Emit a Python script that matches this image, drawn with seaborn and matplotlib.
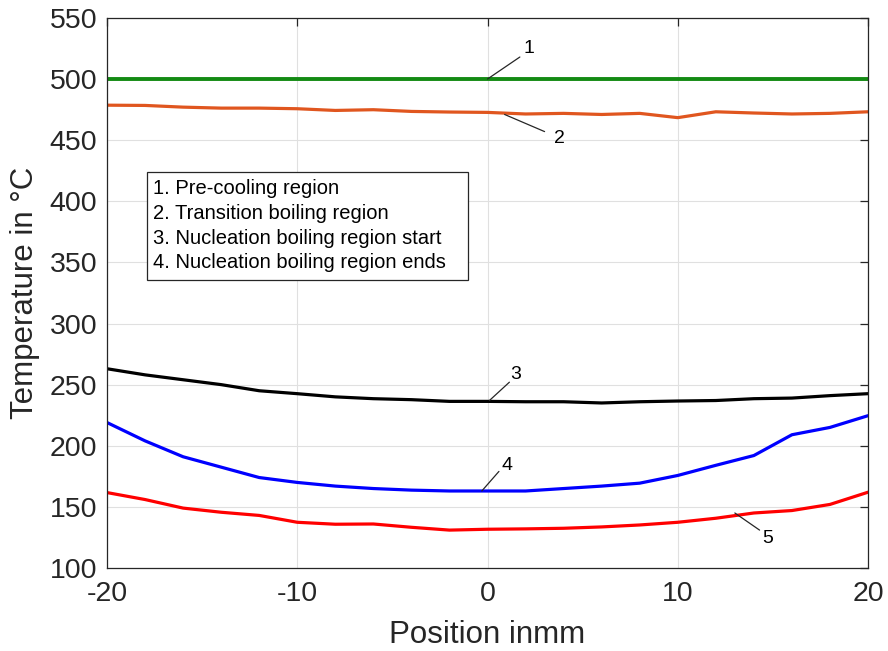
import numpy as np
import pandas as pd
import matplotlib
matplotlib.use("Agg")
import matplotlib.pyplot as plt
from matplotlib.patches import Rectangle
import seaborn as sns

# Position along the plate (mm)
position = [-20, -18, -16, -14, -12, -10, -8, -6, -4, -2, 0,
            2, 4, 6, 8, 10, 12, 14, 16, 18, 20]

# Temperature profiles (°C)
curve1 = [500] * 21
curve2 = [478.6, 478.4, 477.0, 476.2, 476.2, 475.7, 474.3, 474.9, 473.5, 473.0, 472.7,
          471.4, 471.9, 471.0, 471.9, 468.4, 473.2, 472.2, 471.4, 471.9, 473.2]
curve3 = [263.0, 258.0, 254.0, 250.0, 245.0, 242.6, 240.0, 238.5, 237.7, 236.3, 236.3,
          236.0, 236.0, 235.0, 236.0, 236.6, 237.0, 238.5, 239.0, 241.0, 242.6]
curve4 = [219.0, 204.0, 191.0, 182.5, 174.0, 170.0, 167.0, 165.0, 163.7, 163.0, 163.0,
          163.0, 165.0, 167.0, 169.4, 175.7, 184.0, 192.0, 209.0, 215.0, 224.6]
curve5 = [161.7, 156.0, 149.0, 145.6, 143.0, 137.4, 135.8, 136.0, 133.3, 131.0, 131.7,
          132.0, 132.5, 133.6, 135.2, 137.4, 140.7, 145.0, 147.0, 152.0, 162.0]

series_names = ["1", "2", "3", "4", "5"]
series_values = [curve1, curve2, curve3, curve4, curve5]
series_colors = ["#138a13", "#e0561f", "#000000", "#0000ff", "#ff0000"]

legend_lines = ["1. Pre-cooling region",
                "2. Transition boiling region",
                "3. Nucleation boiling region start",
                "4. Nucleation boiling region ends"]

# Curve labels: (label, text position, leader start, leader end)
curve_labels = [
    ("1", (2.2, 525), (0.0, 500), (1.7, 518)),
    ("2", (3.8, 451), (0.9, 471), (3.0, 457)),
    ("3", (1.5, 258), (0.1, 237), (1.15, 252)),
    ("4", (1.05, 184), (-0.3, 163), (0.6, 179)),
    ("5", (14.7, 124), (13.0, 145), (14.3, 131)),
]

df = pd.DataFrame({
    "Position": np.tile(position, len(series_names)),
    "Temperature": np.concatenate(series_values),
    "Curve": np.repeat(series_names, len(position)),
})

sns.set_style("white")
plt.rcParams["font.family"] = ["Liberation Sans", "DejaVu Sans"]
plt.rcParams["axes.unicode_minus"] = False

ink = "#262626"
fig = plt.figure(figsize=(8.88, 6.51), dpi=100)
ax = fig.add_axes([0.1205, 0.1275, 0.857, 0.845])

sns.lineplot(data=df, x="Position", y="Temperature", hue="Curve",
             palette=dict(zip(series_names, series_colors)),
             legend=False, ax=ax, linewidth=2.3)
ax.lines[0].set_linewidth(2.8)

ax.set_xlim(-20, 20)
ax.set_ylim(100, 550)
ax.set_xticks(np.arange(-20, 21, 10))
ax.set_yticks(np.arange(100, 551, 50))
ax.grid(True, color="#e0e0e0", linewidth=0.8)
ax.set_axisbelow(True)
for sp in ax.spines.values():
    sp.set_color(ink)
    sp.set_linewidth(0.9)
ax.tick_params(direction="in", length=6, width=0.9, labelsize=20.5,
               colors=ink, top=True, right=True)
ax.tick_params(axis="y", pad=7)
ax.tick_params(axis="x", pad=9.5)

ax.set_xlabel("")
ax.set_ylabel("")
ax.text(0.5, -0.1364, "Position inmm", transform=ax.transAxes,
        fontsize=22.5, color=ink, ha="center", va="baseline")
ax.text(-0.0972, 0.5, "Temperature in °C", transform=ax.transAxes,
        fontsize=22.5, color=ink, ha="center", va="baseline", rotation=90,
        rotation_mode="anchor")

for lab, tpos, p0, p1 in curve_labels:
    ax.plot([p0[0], p1[0]], [p0[1], p1[1]], color=ink, linewidth=0.9)
    ax.text(tpos[0], tpos[1], lab, fontsize=14, ha="center", va="center",
            color="#000000")

# Boxed description of the regions
ax.add_patch(Rectangle((0.0526, 0.5236), 0.4218, 0.1964, transform=ax.transAxes,
                       facecolor="white", edgecolor=ink, linewidth=0.9, zorder=3))
for i, line in enumerate(legend_lines):
    ax.text(0.0608, 0.689 - i * 0.0446, line, transform=ax.transAxes,
            fontsize=14.5, color="#000000", ha="left", va="center", zorder=4)

fig.savefig("out.png", dpi=100)
